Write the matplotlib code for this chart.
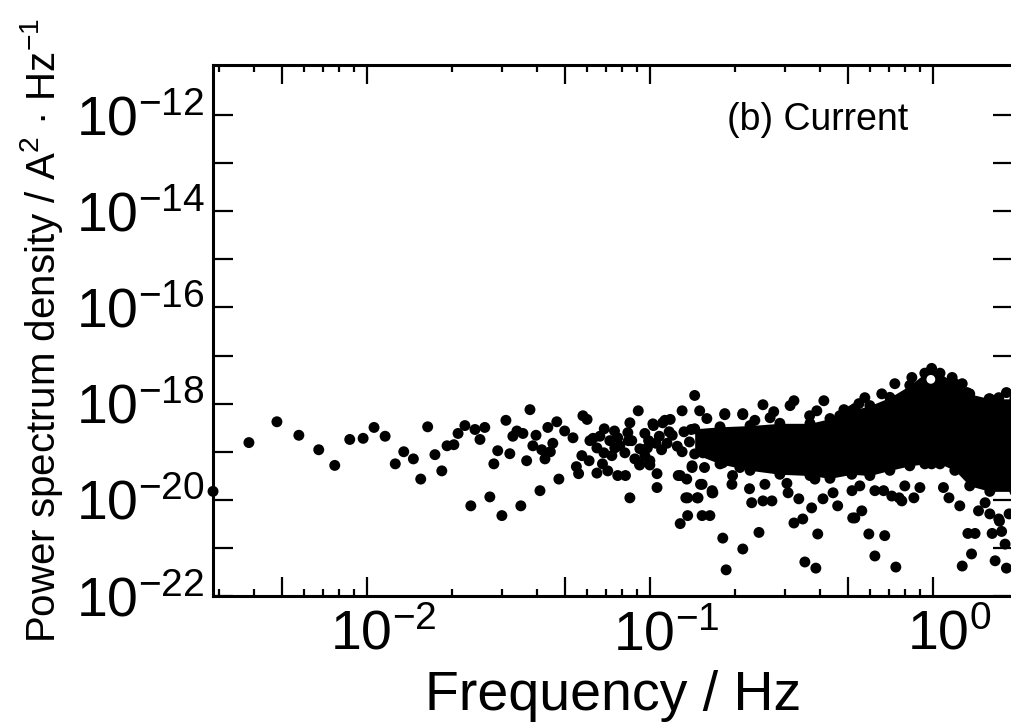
import matplotlib

matplotlib.use("Agg")

import matplotlib.pyplot as plt
import matplotlib.transforms as mtransforms
from matplotlib.ticker import FixedLocator, FixedFormatter, NullLocator

# --- data (frequency / Hz, PSD / A^2 Hz^-1) ---

# isolated points, low-frequency part
freq_low = [2.86e-3, 3.83e-3, 4.81e-3, 5.75e-3, 6.76e-3, 7.7e-3, 8.7e-3, 9.7e-3,
            1.06e-2, 1.16e-2, 1.26e-2, 1.35e-2, 1.46e-2, 1.55e-2, 1.64e-2, 1.74e-2,
            1.84e-2, 1.92e-2, 2.03e-2, 2.1e-2,
            2.22e-2, 2.41e-2, 2.51e-2, 2.61e-2, 2.33e-2, 2.72e-2, 2.81e-2, 2.9e-2,
            3.0e-2, 3.1e-2, 3.2e-2, 3.28e-2, 3.39e-2, 3.5e-2, 3.56e-2, 3.67e-2,
            3.77e-2, 3.86e-2, 3.96e-2, 4.09e-2, 4.15e-2, 4.26e-2, 4.36e-2, 4.54e-2,
            4.69e-2, 4.77e-2, 4.45e-2]
psd_low = [1.5e-20, 1.55e-19, 4.2e-19, 2.2e-19, 1.1e-19, 5.2e-20, 1.8e-19, 1.9e-19,
           3.2e-19, 2.1e-19, 5.6e-20, 1.0e-19, 7.1e-20, 2.7e-20, 3.3e-19, 8.7e-20,
           4.0e-20, 1.33e-19, 1.4e-19, 2.4e-19,
           3.5e-19, 2.9e-19, 1.8e-19, 3.2e-19, 7.5e-21, 1.15e-20, 5.6e-20, 1.05e-19,
           4.7e-21, 4.5e-19, 9.1e-20, 2.1e-19, 2.7e-19, 7.5e-21, 2.4e-19, 6.5e-20,
           7.5e-19, 1.33e-19, 2.2e-19, 1.55e-20, 1.1e-19, 7.1e-20, 3.2e-19, 1.5e-19,
           4.2e-19, 2.7e-20, 1.0e-19]

# isolated / clustered points, 0.05 - 0.2 Hz
freq_mid = [5.0e-2, 5.35e-2, 5.8e-2, 6.0e-2, 5.5e-2, 5.6e-2, 5.75e-2, 6.1e-2,
            6.5e-2, 6.3e-2, 6.9e-2, 6.8e-2, 7.1e-2, 7.7e-2, 8.2e-2, 7.5e-2,
            8.5e-2, 8.5e-2, 9.1e-2, 8.4e-2, 9.2e-2, 0.1, 0.106, 0.106,
            9.8e-2, 0.103, 0.113, 0.130, 0.144, 0.126, 0.135, 0.128,
            0.136, 0.134, 0.147, 0.153, 0.151, 0.141, 0.156,
            6.14e-2, 6.5e-2, 6.88e-2, 7.22e-2, 7.52e-2, 6.66e-2, 7.83e-2, 8.16e-2,
            8.63e-2, 9.22e-2, 9.6e-2, 7.34e-2, 8.85e-2, 8.36e-2, 7.7e-2,
            0.184, 0.213, 0.1025, 0.111, 0.118, 0.096, 0.128, 0.141,
            0.154, 9.22e-2, 0.1, 0.166, 0.136, 0.148, 0.177, 0.181,
            0.196, 0.208, 0.181, 0.186,
            0.105, 0.108, 0.11, 0.115, 0.12, 0.125, 0.13, 0.132, 0.138, 0.14,
            0.099, 0.117]
psd_mid = [2.7e-19, 1.95e-19, 5.6e-19, 4.7e-19, 4.9e-20, 3.5e-20, 8.3e-20, 6.5e-20,
           3.6e-20, 1.9e-19, 3.0e-19, 5.6e-20, 4.0e-20, 3.2e-20, 3.2e-20, 2.7e-19,
           1.1e-20, 4.0e-19, 7.1e-19, 1.7e-19, 5.3e-20, 5.3e-20, 3.5e-20, 1.8e-20,
           1.2e-19, 3.5e-19, 4.5e-19, 7.1e-19, 1.48e-18, 3.2e-20, 2.7e-20, 3.2e-21,
           4.7e-21, 1.1e-20, 1.1e-20, 4.7e-21, 2.1e-20, 4.7e-20, 4.7e-20,
           1.7e-19, 1.2e-19, 9.5e-20, 1.7e-19, 1.2e-19, 2.1e-19, 1.33e-19, 9.5e-20,
           1.7e-19, 1.15e-19, 8.3e-20, 8.3e-20, 7.1e-20, 2.5e-19, 1.95e-19,
           6.2e-19, 6.2e-19, 3.8e-19, 4.0e-19, 4.7e-19, 2.4e-19, 3.2e-20, 5.1e-20,
           9.5e-20, 5.6e-20, 6.5e-20, 1.55e-20, 1.1e-20, 1.1e-20, 1.05e-19, 5.9e-20,
           3.2e-20, 4.7e-20, 1.6e-21, 3.5e-22,
           1.5e-19, 2.1e-19, 1.1e-19, 1.5e-19, 2.2e-19, 1.3e-19, 1.0e-19, 2.6e-19,
           1.6e-19, 2.9e-19, 1.7e-19, 2.6e-19]

# points scattered around the dense band, 0.15 - 2 Hz
freq_high = [0.213, 0.243, 0.229, 0.251, 0.270, 0.323, 0.347, 0.353, 0.386, 0.392,
             0.373, 0.336, 0.308, 0.166, 0.163, 0.521, 0.461, 0.409, 0.444,
             0.251, 0.323, 0.412, 0.184, 0.213, 0.274, 0.485,
             0.594, 0.676, 0.624, 0.740, 1.27, 1.37, 1.33, 1.41, 1.62, 1.66,
             1.82, 1.80, 1.75, 0.53, 0.561, 0.76, 0.857, 0.777, 0.9, 1.09,
             1.14, 1.45, 1.71, 1.86, 1.59, 0.67, 0.716,
             0.575, 0.66, 0.734, 1.32, 1.58, 1.82, 0.548, 0.843, 1.17, 1.27, 1.71,
             0.153, 0.167, 0.195, 0.225, 0.255, 0.305, 0.383, 0.518,
             0.15, 0.159, 0.235, 0.266, 0.313, 0.367, 0.389, 0.469, 0.53,
             1.245, 1.53, 1.72, 0.552, 0.624, 0.796]
psd_high = [9.5e-22, 2.1e-21, 8.7e-21, 9.5e-21, 9.5e-21, 3.3e-21, 4.0e-21, 5.1e-22,
            3.8e-22, 1.95e-21, 6.8e-21, 1.05e-20, 1.4e-20, 1.4e-20, 4.7e-21, 4.2e-21,
            7.5e-21, 1.05e-20, 1.4e-20,
            9.5e-19, 1.15e-18, 1.15e-18, 5.9e-19, 5.9e-19, 6.8e-19, 7.5e-19,
            1.95e-21, 1.8e-21, 6.8e-22, 4.0e-22, 4.2e-22, 7.5e-22, 2.0e-21, 2.0e-21,
            2.0e-21, 5.4e-22, 3.8e-22, 1.2e-21, 2.2e-21, 4.2e-21, 5.9e-21, 1.1e-20,
            1.1e-20, 9.5e-21, 1.8e-20, 1.8e-20, 1.1e-20, 5.9e-21, 4.0e-21, 5.1e-21,
            5.1e-21, 1.55e-20, 1.2e-20,
            1.33e-18, 1.6e-18, 2.6e-18, 1.7e-18, 1.26e-18, 1.7e-18, 1.0e-18, 3.5e-18,
            3.5e-18, 2.6e-18, 1.33e-18,
            2.1e-20, 1.4e-20, 2.1e-20, 1.7e-20, 2.1e-20, 2.2e-20, 2.7e-20, 1.55e-20,
            7.1e-19, 4.9e-19, 4.5e-19, 5.1e-19, 9.1e-19, 5.6e-19, 7.1e-19, 5.6e-19,
            7.9e-19,
            7.5e-21, 8.7e-21, 3.6e-21, 1.95e-20, 1.55e-20, 1.95e-20]

# envelope of the solid band of overlapping points
band_f = [0.144, 0.177, 0.226, 0.288, 0.368, 0.433, 0.517, 0.599,
          0.705, 0.829, 0.937, 0.99, 1.06, 1.196, 1.35, 1.59, 1.95]
band_hi = [3.0e-19, 3.3e-19, 3.5e-19, 3.9e-19, 3.9e-19, 4.9e-19,
           7.2e-19, 9.1e-19, 1.35e-18, 2.4e-18, 4.3e-18, 5.4e-18, 4.3e-18, 2.6e-18,
           1.6e-18, 1.26e-18, 1.26e-18]
band_lo = [9.0e-20, 5.6e-20, 4.1e-20, 3.4e-20, 3.2e-20, 2.8e-20,
           3.4e-20, 3.2e-20, 4.1e-20, 5.1e-20, 5.6e-20, 5.6e-20, 5.6e-20, 4.1e-20,
           1.95e-20, 1.5e-20, 1.5e-20]

# hollow spot at the top of the 1 Hz peak
hole_f = [0.984]
hole_p = [3.2e-18]

# axis ticks
x_major = [5e-3, 1e-2, 5e-2, 1e-1, 5e-1, 1.0]
x_major_labels = ['', r'$10^{-2}$', '', r'$10^{-1}$', '', r'$10^{0}$']
x_minor = [3e-3, 4e-3, 6e-3, 7e-3, 8e-3, 9e-3,
           2e-2, 3e-2, 4e-2, 6e-2, 7e-2, 8e-2, 9e-2,
           2e-1, 3e-1, 4e-1, 6e-1, 7e-1, 8e-1, 9e-1]
y_major = [1e-22, 1e-21, 1e-20, 1e-19, 1e-18, 1e-17, 1e-16, 1e-15, 1e-14, 1e-13, 1e-12]
y_major_labels = [r'$10^{-22}$', '', r'$10^{-20}$', '', r'$10^{-18}$', '',
                  r'$10^{-16}$', '', r'$10^{-14}$', '', r'$10^{-12}$']

plt.rcParams['font.family'] = ['Liberation Sans', 'DejaVu Sans']
plt.rcParams['mathtext.fontset'] = 'custom'
plt.rcParams['mathtext.rm'] = 'Liberation Sans'
plt.rcParams['mathtext.it'] = 'Liberation Sans:italic'
plt.rcParams['mathtext.bf'] = 'Liberation Sans:bold'

fig = plt.figure(figsize=(10.12, 7.28), dpi=100)
ax = fig.add_axes([0.2105, 0.1813, 0.7905, 0.7294])

dot = dict(s=62, color='black', edgecolors='none', clip_on=False, zorder=3)

ax.fill_between(band_f, band_lo, band_hi, color='black', linewidth=0, zorder=2)
ax.scatter(band_f, band_hi, **dot)
ax.scatter(band_f, band_lo, **dot)
ax.scatter(freq_low, psd_low, **dot)
ax.scatter(freq_mid, psd_mid, **dot)
ax.scatter(freq_high, psd_high, **dot)
ax.scatter(hole_f, hole_p, s=40, color='white', edgecolors='none', zorder=4)

ax.set_xscale('log')
ax.set_yscale('log')
ax.set_xlim(2.86e-3, 1.92)
ax.set_ylim(1e-22, 1.1e-11)

ax.xaxis.set_major_locator(FixedLocator(x_major))
ax.xaxis.set_major_formatter(FixedFormatter(x_major_labels))
ax.xaxis.set_minor_locator(FixedLocator(x_minor))
ax.yaxis.set_major_locator(FixedLocator(y_major))
ax.yaxis.set_major_formatter(FixedFormatter(y_major_labels))
ax.yaxis.set_minor_locator(NullLocator())

ax.tick_params(which='both', direction='in', top=True, right=True, width=1.6)
ax.tick_params(axis='x', which='major', length=13.5, labelsize=40, pad=10)
ax.tick_params(axis='x', which='minor', length=5)
ax.tick_params(axis='y', which='major', length=14.5, labelsize=40, pad=6)
for sp in ax.spines.values():
    sp.set_linewidth(2.2)

# base "10" sits on the tick, the exponent hangs to the right
shift = mtransforms.ScaledTranslation(12 / 72, 0, fig.dpi_scale_trans)
for lab in ax.get_xticklabels():
    lab.set_transform(lab.get_transform() + shift)

ax.set_xlabel('Frequency / Hz', fontsize=40, labelpad=6)
ax.set_ylabel(r'Power spectrum density / A$^2$ · Hz$^{-1}$', fontsize=29, labelpad=8)
ax.text(0.6425, 0.8776, '(b) Current', transform=ax.transAxes, fontsize=27,
        ha='left', va='baseline')

fig.savefig('out.png', dpi=100)
